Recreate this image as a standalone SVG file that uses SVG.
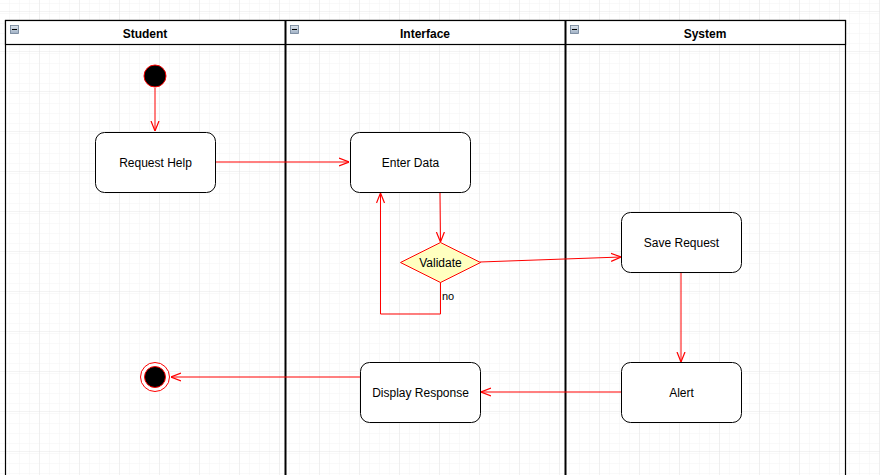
<svg xmlns="http://www.w3.org/2000/svg" width="880" height="475" viewBox="0 0 880 475">
<defs>
<pattern id="minor" width="10" height="10" patternUnits="userSpaceOnUse" x="0" y="2">
<path d="M10 0V10M0 10H10" fill="none" stroke="#f3f3f3" stroke-width="1"/>
</pattern>
<pattern id="major" width="40" height="40" patternUnits="userSpaceOnUse" x="0" y="12">
<rect width="40" height="40" fill="url(#minor)"/>
<path d="M40 0V40M0 40H40" fill="none" stroke="#e6e6e6" stroke-width="1"/>
</pattern>
<marker id="arr" viewBox="0 0 10 10" refX="10" refY="5" markerWidth="10" markerHeight="10" markerUnits="userSpaceOnUse" orient="auto">
<path d="M0 1L10 5L0 9" fill="none" stroke="#ff0000" stroke-width="1.2"/>
</marker>
<linearGradient id="ico" x1="0" y1="0" x2="0" y2="1">
<stop offset="0" stop-color="#dfe6ee"/><stop offset="1" stop-color="#9fb0c4"/>
</linearGradient>
</defs>
<style>
.hdr{font-family:"Liberation Sans",Arial,sans-serif;font-size:12px;font-weight:bold;fill:#000;text-anchor:middle}
.lbl{font-family:"Liberation Sans",Arial,sans-serif;font-size:12px;fill:#000;text-anchor:middle}
.box{fill:#fff;stroke:#000;stroke-width:1}
.edge{fill:none;stroke:#ff0000;stroke-width:1;marker-end:url(#arr)}
.icon rect{fill:url(#ico);stroke:#6d7f95;stroke-width:0.8}
.icon path{stroke:#000;stroke-width:1}
</style>
<rect width="880" height="475" fill="#fff"/>
<rect width="880" height="475" fill="url(#major)"/>
<g id="pool">
<rect x="5.5" y="20.5" width="840" height="470" fill="none" stroke="#000" stroke-width="1.2"/>
<rect x="5.5" y="20.5" width="840" height="24" fill="#fff" stroke="#000" stroke-width="1.2"/>
<line x1="285.5" y1="20" x2="285.5" y2="475" stroke="#000" stroke-width="2"/>
<line x1="565.5" y1="20" x2="565.5" y2="475" stroke="#000" stroke-width="2"/>
<line x1="5" y1="44.5" x2="846" y2="44.5" stroke="#000" stroke-width="1.2"/>
</g>
<g id="lane-student">
<g class="icon"><rect x="10.5" y="25.5" width="8" height="8"/><path d="M12 29.5H17"/></g>
<text class="hdr" x="145" y="38">Student</text>
</g>
<g id="lane-interface">
<g class="icon"><rect x="290.5" y="25.5" width="8" height="8"/><path d="M292 29.5H297"/></g>
<text class="hdr" x="425" y="38">Interface</text>
</g>
<g id="lane-system">
<g class="icon"><rect x="570.5" y="25.5" width="8" height="8"/><path d="M572 29.5H577"/></g>
<text class="hdr" x="705" y="38">System</text>
</g>
<g id="edges">
<path class="edge" d="M155 88V131"/>
<path class="edge" d="M215 162H349"/>
<path class="edge" d="M440 192L440.5 242"/>
<path class="edge" d="M480 262L621 257"/>
<path class="edge" d="M440.5 282V314H380.5V193"/>
<path class="edge" d="M681 272V362"/>
<path class="edge" d="M621 392H481"/>
<path class="edge" d="M360 377H171"/>
<text x="442" y="300" font-family="Liberation Sans, Arial, sans-serif" font-size="11" fill="#000">no</text>
</g>
<g id="start">
<circle cx="155" cy="76" r="11" fill="#000" stroke="#ff0000" stroke-width="1"/>
</g>
<g id="request-help">
<rect class="box" x="95.5" y="132.5" width="120" height="60" rx="9"/>
<text class="lbl" x="155.5" y="167">Request Help</text>
</g>
<g id="enter-data">
<rect class="box" x="350.5" y="132.5" width="120" height="60" rx="9"/>
<text class="lbl" x="410.5" y="167">Enter Data</text>
</g>
<g id="validate">
<path d="M440.5 242.5L480.5 262.5L440.5 282.5L400.5 262.5Z" fill="#ffffc0" stroke="#ff0000" stroke-width="1"/>
<text class="lbl" x="440.5" y="266.5">Validate</text>
</g>
<g id="save-request">
<rect class="box" x="621.5" y="212.5" width="120" height="60" rx="9"/>
<text class="lbl" x="681.5" y="247">Save Request</text>
</g>
<g id="alert">
<rect class="box" x="621.5" y="362.5" width="120" height="60" rx="9"/>
<text class="lbl" x="681.5" y="397">Alert</text>
</g>
<g id="display-response">
<rect class="box" x="360.5" y="362.5" width="120" height="60" rx="9"/>
<text class="lbl" x="420.5" y="397">Display Response</text>
</g>
<g id="end">
<circle cx="155" cy="377" r="14.5" fill="#fff" stroke="#ff0000" stroke-width="1"/>
<circle cx="155" cy="377" r="10.5" fill="#000" stroke="#ff0000" stroke-width="1"/>
</g>
</svg>
